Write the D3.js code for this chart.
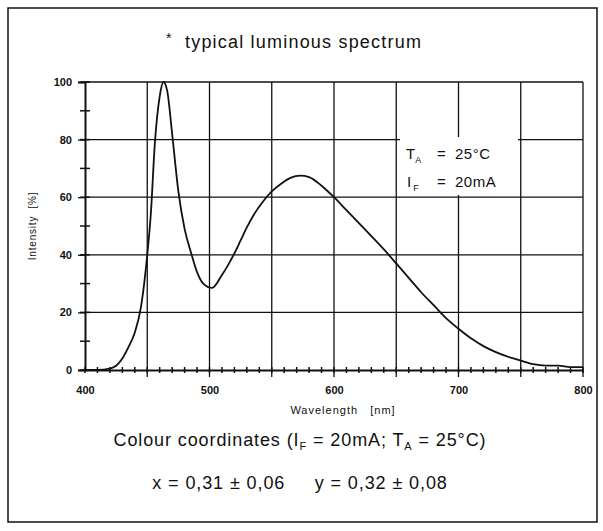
<!DOCTYPE html>
<html>
<head>
<meta charset="utf-8">
<script src="https://cdn.jsdelivr.net/npm/d3@7.9.0/dist/d3.min.js"></script>
<style>
  body { margin: 0; background: #fff; }
  svg { display: block; font-family: "Liberation Sans", Arial, sans-serif; }
</style>
</head>
<body>
<svg id="chart" width="603" height="531"></svg>
<script>
// spectrum (wavelength nm, relative intensity %)
const wavelength = [400, 410, 420, 425, 430, 435, 440, 445, 450, 453, 456, 460, 463, 466, 470, 475, 480, 485, 490, 495, 502, 510, 515, 520, 525, 530, 535, 543, 550, 557, 565, 573, 580, 590, 600, 610, 620, 630, 644, 650, 660, 670, 680, 690, 700, 710, 720, 730, 744, 752, 760, 770, 780, 790, 800];
const intensity  = [0, 0, 0.5, 1.5, 4, 8, 13, 22, 40, 55, 78, 95, 100, 97, 82, 62, 49, 41, 34, 30, 28.5, 33, 36.5, 40.5, 45, 49.5, 53.5, 58.5, 62, 64.5, 66.7, 67.5, 67, 64, 60, 55.5, 51, 46.5, 40, 37, 32, 27, 22.5, 18, 14.3, 11, 8.3, 6.2, 4, 3, 2, 1.5, 1.5, 1, 1];

const xTicks = [400, 500, 600, 700, 800];
const yTicks = [0, 20, 40, 60, 80, 100];
const xGrid = [450, 500, 550, 600, 650, 700, 750, 800];
const xMinor = d3.range(400, 801, 10);
const yMinor = d3.range(0, 101, 10);

const svg = d3.select("#chart");

// outer frame
svg.append("rect")
  .attr("x", 8).attr("y", 8)
  .attr("width", 589).attr("height", 514)
  .attr("fill", "none").attr("stroke", "#111").attr("stroke-width", 1.5);

svg.append("text")
  .attr("x", 166).attr("y", 48)
  .attr("font-size", "18px")
  .attr("letter-spacing", "1.2px")
  .attr("fill", "#111")
  .html('<tspan font-size="14px" dy="-5">*</tspan><tspan x="185" dy="5">typical luminous spectrum</tspan>');

const x = d3.scaleLinear().domain([400, 800]).range([85, 583]);
const y = d3.scaleLinear().domain([0, 100]).range([370, 82]);

// grid
svg.append("g").selectAll("line").data(yTicks.slice(1)).join("line")
  .attr("x1", x(400)).attr("x2", x(800))
  .attr("y1", d => y(d)).attr("y2", d => y(d))
  .attr("stroke", "#111").attr("stroke-width", 1.3);

svg.append("g").selectAll("line").data(xGrid).join("line")
  .attr("x1", d => x(d)).attr("x2", d => x(d))
  .attr("y1", y(100)).attr("y2", y(0) + 7)
  .attr("stroke", "#111").attr("stroke-width", 1.3);

// legend box covering the grid
svg.append("rect")
  .attr("x", 400).attr("y", 137)
  .attr("width", 118).attr("height", 58)
  .attr("fill", "#fff");

const leg = svg.append("g").attr("fill", "#111").attr("font-size", "15px");
leg.append("text").attr("y", 159)
  .html('<tspan x="406">T</tspan><tspan font-size="9px" dy="4">A</tspan><tspan x="437" dy="-4">=</tspan><tspan x="455" letter-spacing="0.5px">25°C</tspan>');
leg.append("text").attr("y", 187)
  .html('<tspan x="407">I</tspan><tspan font-size="9px" dy="4" dx="2">F</tspan><tspan x="437" dy="-4">=</tspan><tspan x="455" letter-spacing="0.5px">20mA</tspan>');

// axes
const xAxis = svg.append("g").attr("transform", `translate(0,${y(0)})`)
  .call(d3.axisBottom(x).tickValues(xTicks).tickSize(0).tickPadding(16));
xAxis.select(".domain").attr("stroke", "#111").attr("stroke-width", 2);
xAxis.selectAll("text").attr("font-size", "11px").attr("font-weight", "bold").attr("fill", "#111");

xAxis.selectAll(".minor").data(xMinor).join("line").attr("class", "minor")
  .attr("x1", d => x(d)).attr("x2", d => x(d))
  .attr("y1", -3).attr("y2", 3)
  .attr("stroke", "#111").attr("stroke-width", 1.5);

const yAxis = svg.append("g").attr("transform", `translate(${x(400)},0)`)
  .call(d3.axisLeft(y).tickValues(yTicks).tickSize(7).tickPadding(6));
yAxis.select(".domain").attr("stroke", "#111").attr("stroke-width", 2);
yAxis.selectAll(".tick line").attr("stroke", "#111").attr("stroke-width", 1.3);
yAxis.selectAll("text").attr("font-size", "11px").attr("font-weight", "bold").attr("fill", "#111");

yAxis.selectAll(".minor").data(yMinor).join("line").attr("class", "minor")
  .attr("x1", -5).attr("x2", 5)
  .attr("y1", d => y(d)).attr("y2", d => y(d))
  .attr("stroke", "#111").attr("stroke-width", 1.5);

// axis titles
svg.append("text")
  .attr("transform", `translate(36,${y(50)}) rotate(-90)`)
  .attr("text-anchor", "middle")
  .attr("font-size", "10px").attr("letter-spacing", "0.8px").attr("fill", "#111")
  .attr("xml:space", "preserve")
  .text("Intensity  [%]");

svg.append("text")
  .attr("x", 343).attr("y", 414)
  .attr("text-anchor", "middle")
  .attr("font-size", "11px").attr("letter-spacing", "1px").attr("fill", "#111")
  .attr("xml:space", "preserve")
  .text("Wavelength   [nm]");

// spectrum curve
const pts = wavelength.map((w, i) => [w, intensity[i]]);
svg.append("path")
  .datum(pts)
  .attr("fill", "none")
  .attr("stroke", "#111")
  .attr("stroke-width", 1.8)
  .attr("d", d3.line().x(d => x(d[0])).y(d => y(d[1])).curve(d3.curveMonotoneX));

// colour coordinates
const foot = svg.append("g").attr("fill", "#111").attr("font-size", "18px")
  .attr("letter-spacing", "0.9px").attr("text-anchor", "middle");
foot.append("text").attr("x", 300).attr("y", 446)
  .html('Colour coordinates (I<tspan font-size="11px" dy="4">F</tspan><tspan dy="-4"> = 20mA;  T</tspan><tspan font-size="11px" dy="4">A</tspan><tspan dy="-4"> = 25°C)</tspan>');
foot.append("text").attr("x", 300).attr("y", 489)
  .attr("xml:space", "preserve")
  .text("x = 0,31 ± 0,06     y = 0,32 ± 0,08");
</script>
</body>
</html>
